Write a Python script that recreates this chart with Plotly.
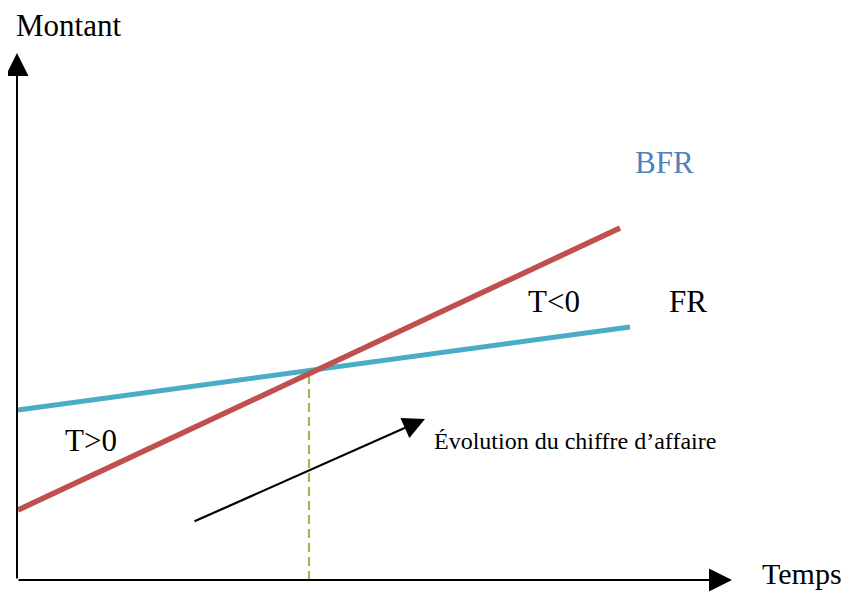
import plotly.graph_objects as go

# Data (units on the Temps / Montant axes)
bfr_t = [0, 602]
bfr_v = [70, 352]
fr_t = [0, 612]
fr_v = [170, 253]
cross_t = [291, 291]
cross_v = [0, 208]
ca_arrow_t = [175, 407]
ca_arrow_v = [58, 161]
axis_x_end = 714
axis_y_end = 527

RED = "#C0504D"
BLUE = "#4BACC6"
GREEN = "#9BBB59"
TXT_BLUE = "#4F81BD"
FONT = "Liberation Serif"

fig = go.Figure()
fig.add_trace(go.Scatter(x=cross_t, y=cross_v, mode="lines",
                         line=dict(color=GREEN, width=2.2, dash="9px,5px"), hoverinfo="skip"))
fig.add_trace(go.Scatter(x=fr_t, y=fr_v, mode="lines",
                         line=dict(color=BLUE, width=5), name="FR"))
fig.add_trace(go.Scatter(x=bfr_t, y=bfr_v, mode="lines",
                         line=dict(color=RED, width=5.5), name="BFR"))

annotations = []
# axes with arrows
annotations.append(dict(x=axis_x_end, y=0, ax=-1, ay=0, xref="x", yref="y", axref="x", ayref="y",
                        showarrow=True, arrowhead=2, arrowsize=2.3, arrowwidth=2, arrowcolor="black", text=""))
annotations.append(dict(x=-1, y=axis_y_end, ax=-1, ay=0, xref="x", yref="y", axref="x", ayref="y",
                        showarrow=True, arrowhead=2, arrowsize=2.3, arrowwidth=2, arrowcolor="black", text=""))
# chiffre d'affaire arrow
annotations.append(dict(x=ca_arrow_t[1], y=ca_arrow_v[1], ax=ca_arrow_t[0], ay=ca_arrow_v[0],
                        xref="x", yref="y", axref="x", ayref="y",
                        showarrow=True, arrowhead=2, arrowsize=2.0, arrowwidth=2.2, arrowcolor="black", text=""))

def label(text, x, y, size=31, color="black", xanchor="center"):
    annotations.append(dict(x=x, y=y, xref="x", yref="y", text=text, showarrow=False,
                            xanchor=xanchor, yanchor="middle",
                            font=dict(family=FONT, size=size, color=color)))

label("Montant", 50, 555)
label("Temps", 784, 7, size=30)
label("BFR", 646, 418, color=TXT_BLUE)
label("FR", 670, 279)
label("T&lt;0", 536, 279)
label("T&gt;0", 73, 140)
label("Évolution du chiffre d’affaire", 414, 139, size=24, xanchor="left")

fig.update_layout(
    width=846, height=584,
    margin=dict(l=0, r=0, t=0, b=0),
    paper_bgcolor="white", plot_bgcolor="white",
    showlegend=False,
    annotations=annotations,
    xaxis=dict(range=[-10, 836], visible=False, fixedrange=True),
    yaxis=dict(range=[-12, 572], visible=False, fixedrange=True),
)

fig.write_html("out.html")
